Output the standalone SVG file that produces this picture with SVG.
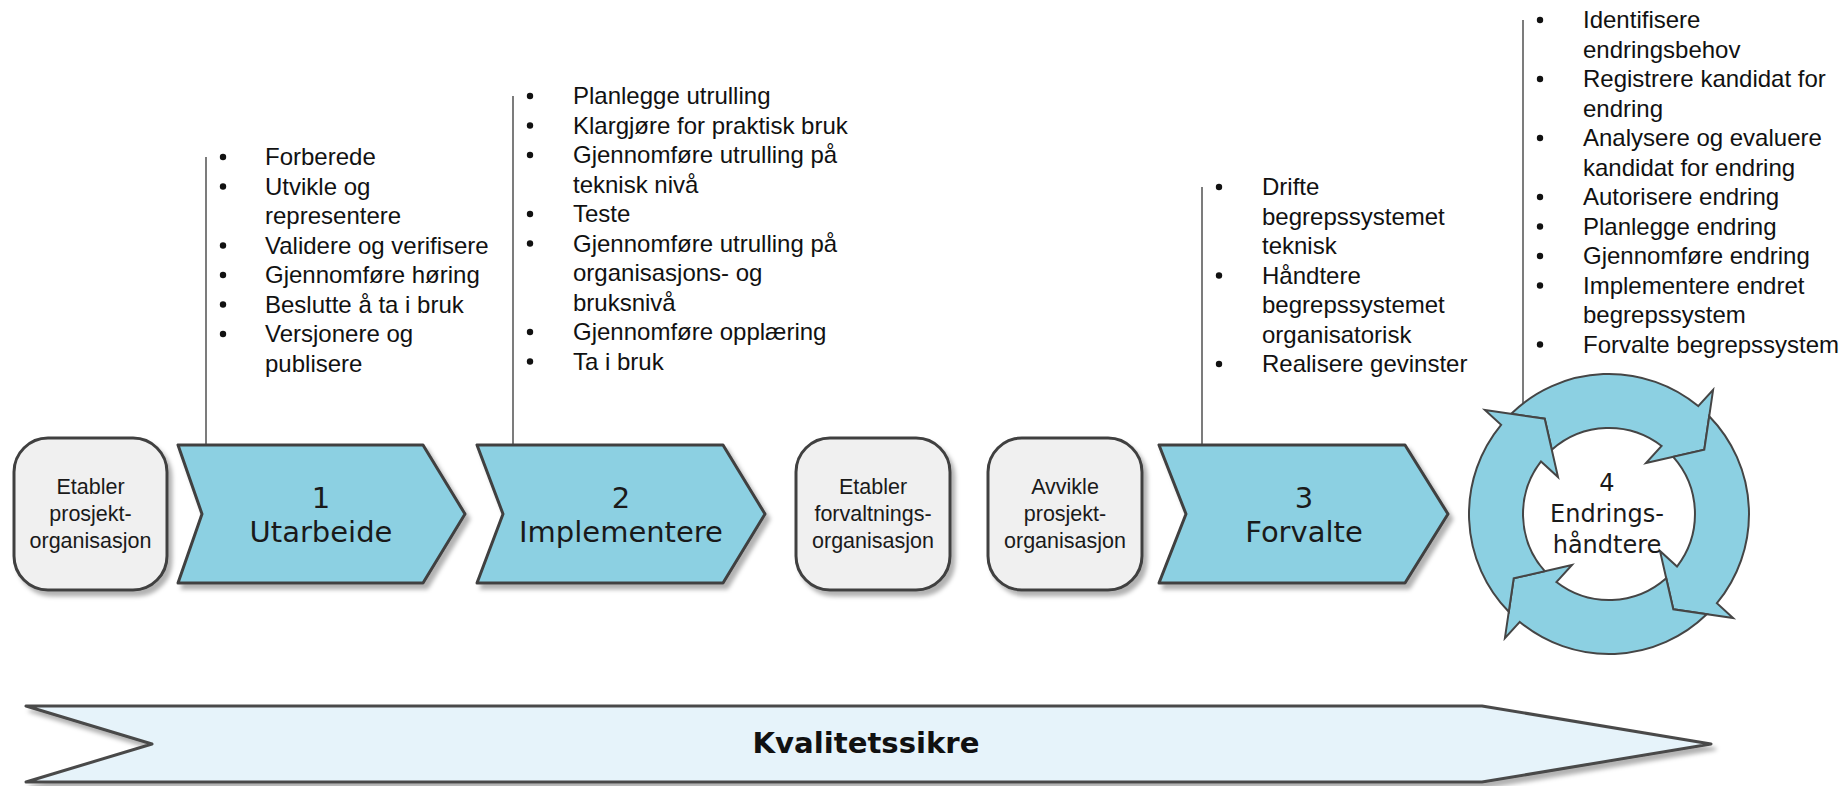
<svg xmlns="http://www.w3.org/2000/svg" width="1845" height="786" viewBox="0 0 1845 786">
<defs>
<style>
.chev{fill:#8CD0E2;stroke:#404040;stroke-width:3;stroke-linejoin:round}
.box{fill:#F0F0F0;stroke:#404040;stroke-width:3}
.band{fill:#E6F3FA;stroke:#4A4A4A;stroke-width:3;stroke-linejoin:round}
.lbl{font-family:"DejaVu Sans",Verdana,sans-serif;font-size:29px;fill:#1A1A1A;text-anchor:middle}
.cyc{font-family:"DejaVu Sans",Verdana,sans-serif;font-size:24px;fill:#1A1A1A;text-anchor:middle}
.small{font-family:"Liberation Sans",Arial,sans-serif;font-size:21.5px;fill:#1A1A1A;text-anchor:middle}
.li{font-family:"Liberation Sans",Arial,sans-serif;font-size:24px;fill:#111}
.lead{stroke:#505050;stroke-width:1.5;fill:none}
.bul{fill:#111}
.ring{fill:#8CD0E2;stroke:#454545;stroke-width:2;stroke-linejoin:miter}
.bandtxt{font-family:"DejaVu Sans",Verdana,sans-serif;font-weight:bold;font-size:29px;fill:#111;text-anchor:middle}
</style>
<filter id="sh" x="-10%" y="-10%" width="130%" height="140%">
<feDropShadow dx="4" dy="5" stdDeviation="2" flood-color="#000" flood-opacity="0.3"/>
</filter>
<path id="arr" class="ring" d="M -97.75 -100.22 A 140 140 0 0 1 89.2 -107.9 L 104.1 -124.1 L 95.3 -64.3 L 37 -51 L 52.6 -68 A 86 86 0 0 0 -57.2 -64.2 L -64.3 -95.3 Z"/>
</defs>
<rect width="1845" height="786" fill="#FFFFFF"/>

<g id="connectors">
<line class="lead" x1="206" y1="157" x2="206" y2="446"/>
<line class="lead" x1="513" y1="96" x2="513" y2="446"/>
<line class="lead" x1="1202" y1="187" x2="1202" y2="446"/>
<line class="lead" x1="1523" y1="20" x2="1523" y2="422"/>
</g>

<g id="box-etabler-prosjekt">
<rect class="box" x="14" y="438" width="153" height="152" rx="34" filter="url(#sh)"/>
<text class="small"><tspan x="90.5" y="494">Etabler</tspan><tspan x="90.5" y="521">prosjekt-</tspan><tspan x="90.5" y="548">organisasjon</tspan></text>
</g>

<g id="chevron-1">
<polygon class="chev" points="178,445 423,445 465,514 423,583 178,583 202,514" filter="url(#sh)"/>
<text class="lbl"><tspan x="321" y="508">1</tspan><tspan x="321" y="542">Utarbeide</tspan></text>
</g>

<g id="chevron-2">
<polygon class="chev" points="477,445 723,445 765,514 723,583 477,583 503,514" filter="url(#sh)"/>
<text class="lbl"><tspan x="621" y="508">2</tspan><tspan x="621" y="542">Implementere</tspan></text>
</g>

<g id="box-etabler-forvaltning">
<rect class="box" x="796" y="438" width="154" height="152" rx="34" filter="url(#sh)"/>
<text class="small"><tspan x="873" y="494">Etabler</tspan><tspan x="873" y="521">forvaltnings-</tspan><tspan x="873" y="548">organisasjon</tspan></text>
</g>

<g id="box-avvikle">
<rect class="box" x="988" y="438" width="154" height="152" rx="34" filter="url(#sh)"/>
<text class="small"><tspan x="1065" y="494">Avvikle</tspan><tspan x="1065" y="521">prosjekt-</tspan><tspan x="1065" y="548">organisasjon</tspan></text>
</g>

<g id="chevron-3">
<polygon class="chev" points="1159,445 1405,445 1448,514 1405,583 1159,583 1186,514" filter="url(#sh)"/>
<text class="lbl"><tspan x="1304" y="508">3</tspan><tspan x="1304" y="542">Forvalte</tspan></text>
</g>

<g id="cycle-4">
<g transform="translate(1609,514)">
<use href="#arr"/>
<use href="#arr" transform="rotate(90)"/>
<use href="#arr" transform="rotate(180)"/>
<use href="#arr" transform="rotate(270)"/>
</g>
<text class="cyc"><tspan x="1607" y="491">4</tspan><tspan x="1607" y="522">Endrings-</tspan><tspan x="1607" y="553">håndtere</tspan></text>
</g>

<g id="list-1">
<circle class="bul" cx="223" cy="157" r="3.2"/>
<circle class="bul" cx="223" cy="186.5" r="3.2"/>
<circle class="bul" cx="223" cy="245.5" r="3.2"/>
<circle class="bul" cx="223" cy="275" r="3.2"/>
<circle class="bul" cx="223" cy="304.5" r="3.2"/>
<circle class="bul" cx="223" cy="334" r="3.2"/>
<text class="li"><tspan x="265" y="165">Forberede</tspan><tspan x="265" y="194.5">Utvikle og</tspan><tspan x="265" y="224">representere</tspan><tspan x="265" y="253.5">Validere og verifisere</tspan><tspan x="265" y="283">Gjennomføre høring</tspan><tspan x="265" y="312.5">Beslutte å ta i bruk</tspan><tspan x="265" y="342">Versjonere og</tspan><tspan x="265" y="371.5">publisere</tspan></text>
</g>

<g id="list-2">
<circle class="bul" cx="530" cy="96" r="3.2"/>
<circle class="bul" cx="530" cy="125.5" r="3.2"/>
<circle class="bul" cx="530" cy="155" r="3.2"/>
<circle class="bul" cx="530" cy="214" r="3.2"/>
<circle class="bul" cx="530" cy="243.5" r="3.2"/>
<circle class="bul" cx="530" cy="332" r="3.2"/>
<circle class="bul" cx="530" cy="361.5" r="3.2"/>
<text class="li"><tspan x="573" y="104">Planlegge utrulling</tspan><tspan x="573" y="133.5">Klargjøre for praktisk bruk</tspan><tspan x="573" y="163">Gjennomføre utrulling på</tspan><tspan x="573" y="192.5">teknisk nivå</tspan><tspan x="573" y="222">Teste</tspan><tspan x="573" y="251.5">Gjennomføre utrulling på</tspan><tspan x="573" y="281">organisasjons- og</tspan><tspan x="573" y="310.5">bruksnivå</tspan><tspan x="573" y="340">Gjennomføre opplæring</tspan><tspan x="573" y="369.5">Ta i bruk</tspan></text>
</g>

<g id="list-3">
<circle class="bul" cx="1219" cy="187" r="3.2"/>
<circle class="bul" cx="1219" cy="275.5" r="3.2"/>
<circle class="bul" cx="1219" cy="364" r="3.2"/>
<text class="li"><tspan x="1262" y="195">Drifte</tspan><tspan x="1262" y="224.5">begrepssystemet</tspan><tspan x="1262" y="254">teknisk</tspan><tspan x="1262" y="283.5">Håndtere</tspan><tspan x="1262" y="313">begrepssystemet</tspan><tspan x="1262" y="342.5">organisatorisk</tspan><tspan x="1262" y="372">Realisere gevinster</tspan></text>
</g>

<g id="list-4">
<circle class="bul" cx="1540" cy="20" r="3.2"/>
<circle class="bul" cx="1540" cy="79" r="3.2"/>
<circle class="bul" cx="1540" cy="138" r="3.2"/>
<circle class="bul" cx="1540" cy="197" r="3.2"/>
<circle class="bul" cx="1540" cy="226.5" r="3.2"/>
<circle class="bul" cx="1540" cy="256" r="3.2"/>
<circle class="bul" cx="1540" cy="285.5" r="3.2"/>
<circle class="bul" cx="1540" cy="344.5" r="3.2"/>
<text class="li"><tspan x="1583" y="28">Identifisere</tspan><tspan x="1583" y="57.5">endringsbehov</tspan><tspan x="1583" y="87">Registrere kandidat for</tspan><tspan x="1583" y="116.5">endring</tspan><tspan x="1583" y="146">Analysere og evaluere</tspan><tspan x="1583" y="175.5">kandidat for endring</tspan><tspan x="1583" y="205">Autorisere endring</tspan><tspan x="1583" y="234.5">Planlegge endring</tspan><tspan x="1583" y="264">Gjennomføre endring</tspan><tspan x="1583" y="293.5">Implementere endret</tspan><tspan x="1583" y="323">begrepssystem</tspan><tspan x="1583" y="352.5">Forvalte begrepssystem</tspan></text>
</g>

<g id="banner-kvalitetssikre">
<polygon class="band" points="26,706 1482,706 1711,744 1482,782 26,782 152,744" filter="url(#sh)"/>
<text class="bandtxt" x="866" y="753" textLength="227" lengthAdjust="spacingAndGlyphs">Kvalitetssikre</text>
</g>
</svg>
